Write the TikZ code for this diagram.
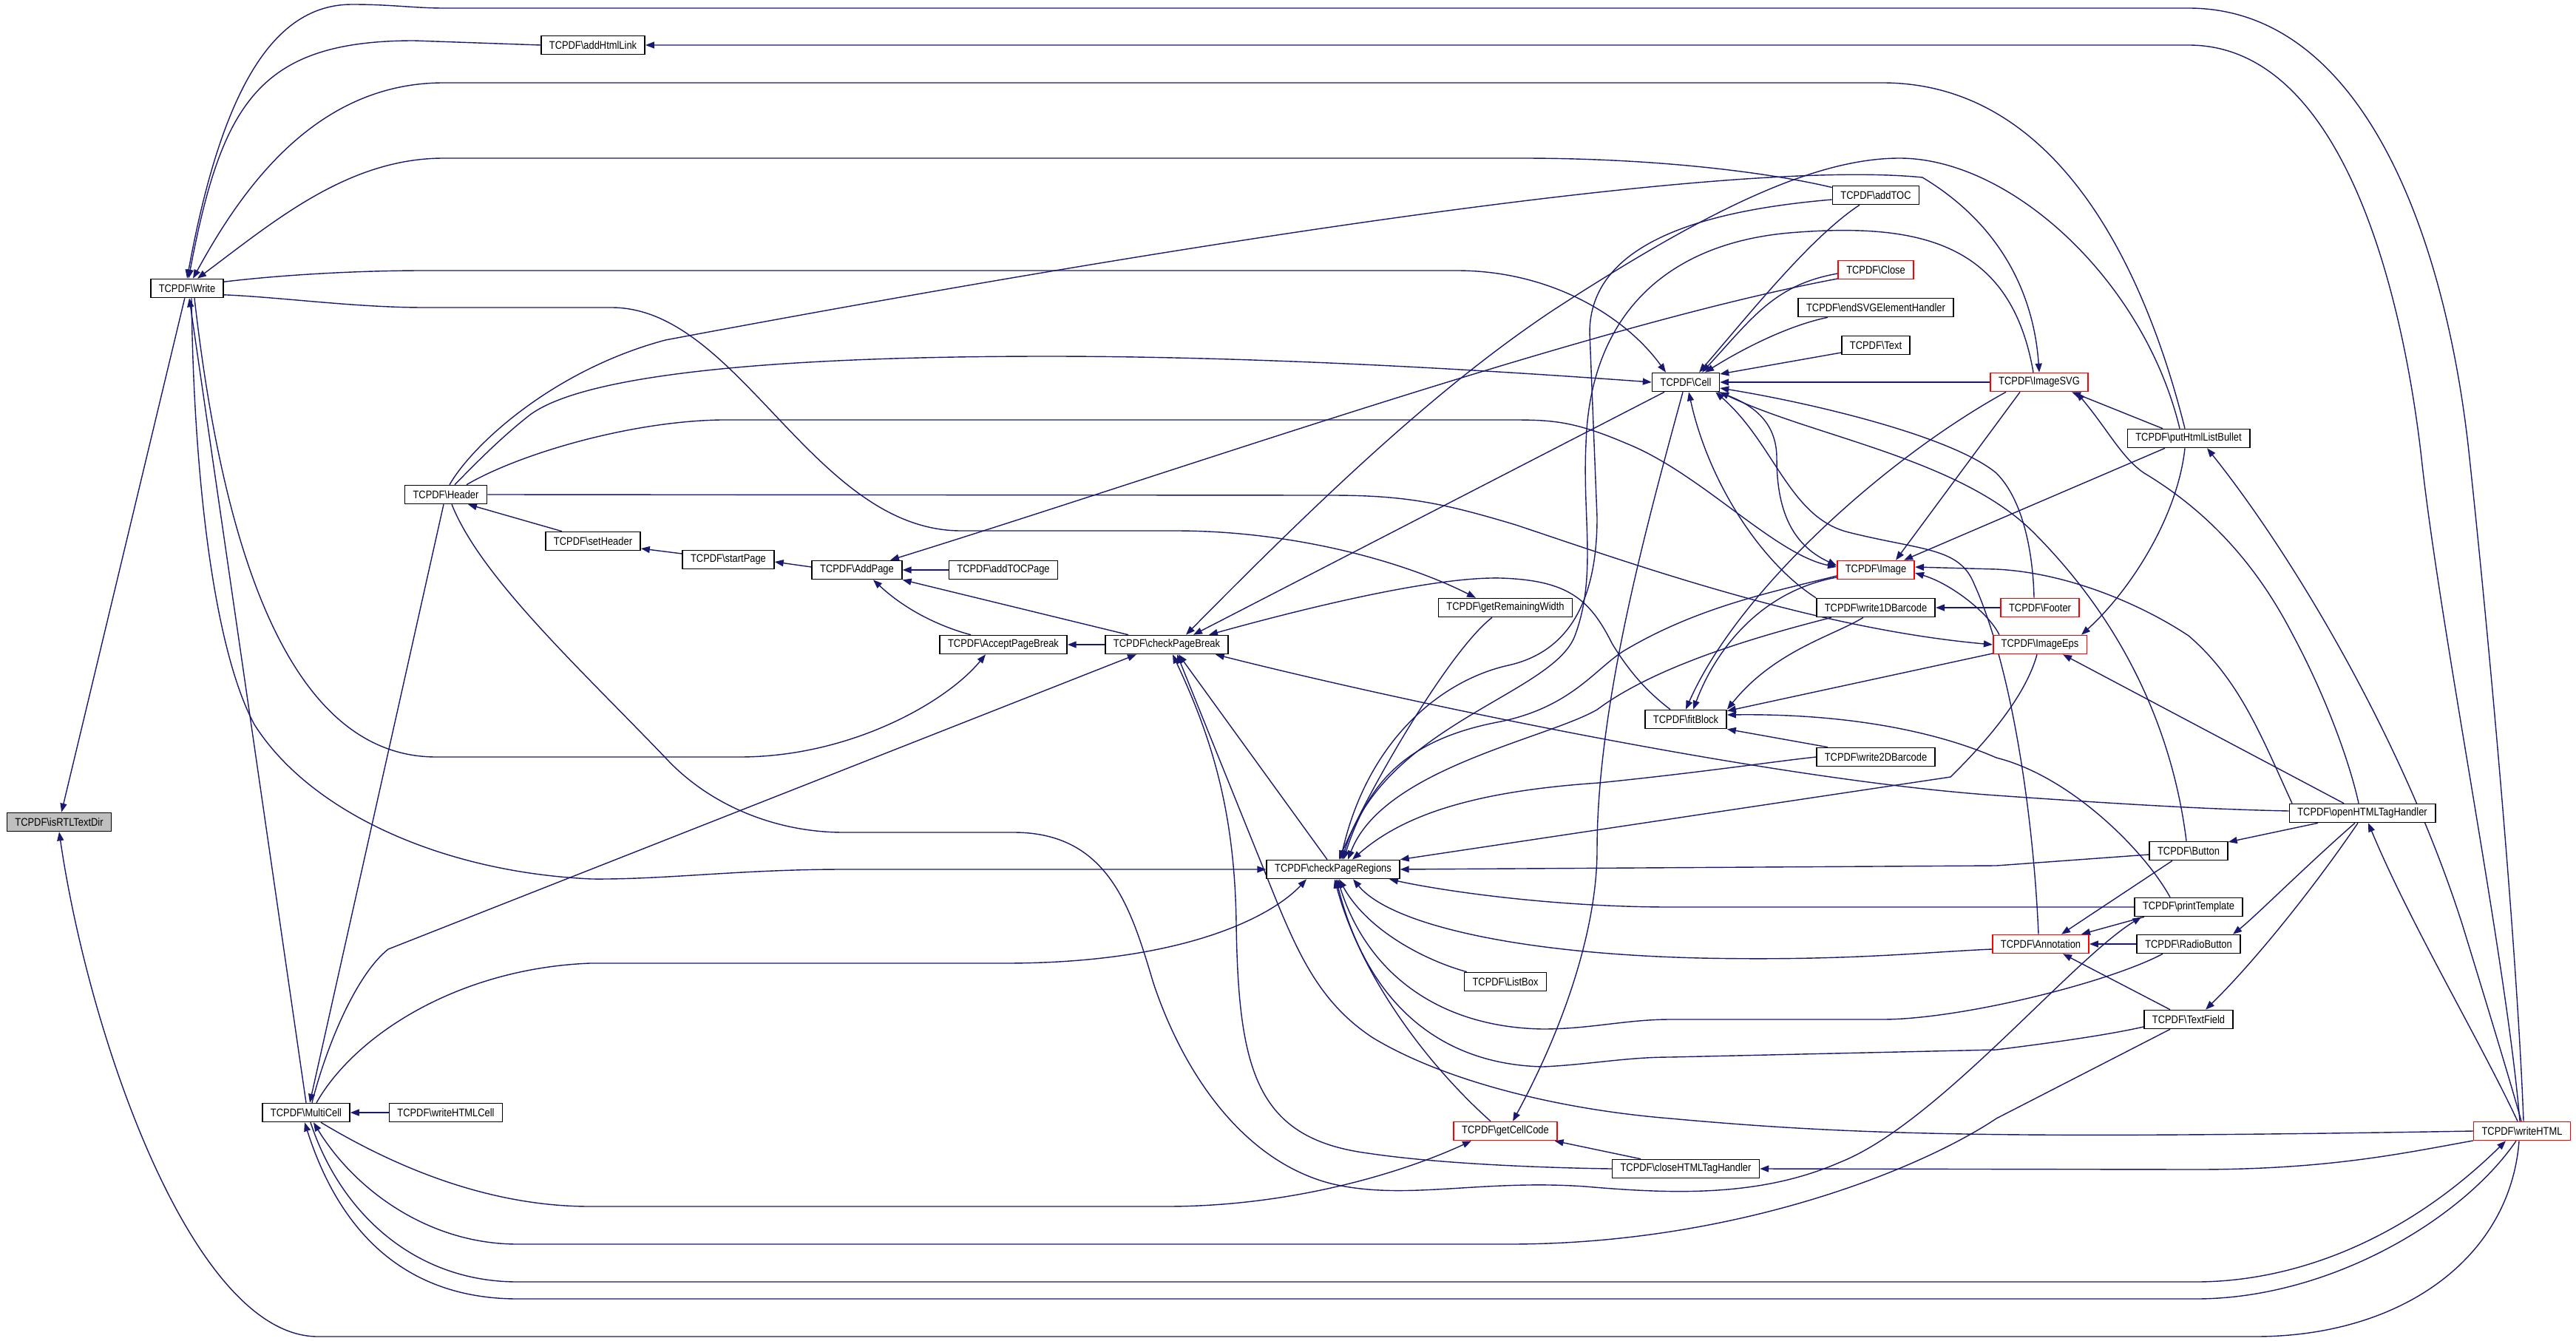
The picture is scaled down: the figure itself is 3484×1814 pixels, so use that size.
\documentclass[tikz,border=0pt]{standalone}
\usepackage{fontspec}
\setmainfont{Liberation Sans}[FakeStretch=0.86]
\usetikzlibrary{arrows.meta,backgrounds}

\definecolor{edgeblue}{RGB}{25,25,112}
\definecolor{rootgrey}{RGB}{191,191,191}
\newcommand{\tcpdf}[1]{TCPDF\textbackslash #1}

\tikzset{
  fn/.style={draw=black, line width=1.6pt, fill=white, minimum height=25pt,
    inner xsep=11pt, inner ysep=0pt, font=\fontsize{15}{15}\selectfont},
  fnred/.style={fn, draw=red},
  fnroot/.style={fn, fill=rootgrey},
  callby/.style={draw=edgeblue, line width=1.4pt, arrows={Triangle[length=12pt,width=9pt]-}},
}

\begin{document}
\begin{tikzpicture}[x=1pt, y=-1pt]
\useasboundingbox (0,0) rectangle (3484,1814);

% functions, one column per rank
\node[fnroot] (isrtl) at (80,1112) {\tcpdf{isRTLTextDir}};
\node[fn] (write) at (253,390) {\tcpdf{Write}};
\node[fn] (multicell) at (414,1505) {\tcpdf{MultiCell}};
\node[fn] (header) at (603,669) {\tcpdf{Header}};
\node[fn] (writehtmlcell) at (603,1505) {\tcpdf{writeHTMLCell}};
\node[fn] (addhtmllink) at (802,61) {\tcpdf{addHtmlLink}};
\node[fn] (setheader) at (802,732) {\tcpdf{setHeader}};
\node[fn] (startpage) at (985,757) {\tcpdf{startPage}};
\node[fn] (addpage) at (1159,771) {\tcpdf{AddPage}};
\node[fn] (addtocpage) at (1357,771) {\tcpdf{addTOCPage}};
\node[fn] (acceptpagebreak) at (1357,872) {\tcpdf{AcceptPageBreak}};
\node[fn] (checkpagebreak) at (1578,872) {\tcpdf{checkPageBreak}};
\node[fn] (checkpageregions) at (1803,1176) {\tcpdf{checkPageRegions}};
\node[fn] (getremainingwidth) at (2036,822) {\tcpdf{getRemainingWidth}};
\node[fn] (listbox) at (2036,1328) {\tcpdf{ListBox}};
\node[fnred] (getcellcode) at (2036,1530) {\tcpdf{getCellCode}};
\node[fn] (cell) at (2280,517) {\tcpdf{Cell}};
\node[fn] (fitblock) at (2280,973) {\tcpdf{fitBlock}};
\node[fn] (closehtml) at (2280,1581) {\tcpdf{closeHTMLTagHandler}};
\node[fn] (addtoc) at (2537,264) {\tcpdf{addTOC}};
\node[fnred] (close) at (2537,365) {\tcpdf{Close}};
\node[fn] (endsvg) at (2537,416) {\tcpdf{endSVGElementHandler}};
\node[fn] (text) at (2537,467) {\tcpdf{Text}};
\node[fnred] (image) at (2537,771) {\tcpdf{Image}};
\node[fn] (barcodeone) at (2537,822) {\tcpdf{write1DBarcode}};
\node[fn] (barcodetwo) at (2537,1024) {\tcpdf{write2DBarcode}};
\node[fnred] (imagesvg) at (2758,517) {\tcpdf{ImageSVG}};
\node[fnred] (footer) at (2759,822) {\tcpdf{Footer}};
\node[fnred] (imageeps) at (2759,872) {\tcpdf{ImageEps}};
\node[fnred] (annotation) at (2760,1277) {\tcpdf{Annotation}};
\node[fn] (listbullet) at (2960,593) {\tcpdf{putHtmlListBullet}};
\node[fn] (button) at (2960,1151) {\tcpdf{Button}};
\node[fn] (printtemplate) at (2960,1227) {\tcpdf{printTemplate}};
\node[fn] (radiobutton) at (2960,1277) {\tcpdf{RadioButton}};
\node[fn] (textfield) at (2960,1379) {\tcpdf{TextField}};
\node[fn] (openhtml) at (3195,1100) {\tcpdf{openHTMLTagHandler}};
\node[fnred] (writehtml) at (3411,1530) {\tcpdf{writeHTML}};

\begin{scope}[on background layer]
% root
\draw[callby] (isrtl) -- (write);
\draw[callby] (isrtl.south) .. controls (120,1400) and (260,1808) .. (430,1808) -- (3050,1808) .. controls (3250,1808) and (3395,1700) .. ([xshift=-4pt]writehtml.south);

% callers of Write
\draw[callby] (write.north) .. controls (300,120) and (370,6) .. (476,6) .. controls (530,6) and (560,11) .. (600,11) -- (2960,11) .. controls (3200,11) and (3310,330) .. (3340,620) .. controls (3370,900) and (3405,1300) .. ([xshift=2pt]writehtml.north);
\draw[callby] ([xshift=2pt]write.north) .. controls (300,140) and (350,55) .. (560,55) -- (addhtmllink.west);
\draw[callby] ([xshift=8pt]write.north) .. controls (330,250) and (430,112) .. (600,112) -- (2546,112) .. controls (2800,112) and (2910,400) .. ([xshift=-5pt]listbullet.north);
\draw[callby] ([xshift=14pt]write.north) .. controls (370,300) and (470,214) .. (600,214) -- (2058,214) .. controls (2250,214) and (2400,235) .. (addtoc.170);
\draw[callby] ([xshift=3pt]write.south) -- (multicell.north);
\draw[callby] (addhtmllink.east) -- (2960,61) .. controls (3170,61) and (3250,400) .. (3275,620) .. controls (3300,850) and (3390,1300) .. ([xshift=-3pt]writehtml.north);

% called by Write
\draw[callby] ([xshift=-27pt]cell.north) .. controls (2200,430) and (2100,366) .. (1970,366) -- (574,366) .. controls (480,366) and (380,372) .. (write.10);
\draw[callby] ([xshift=-40pt]getremainingwidth.north) .. controls (1900,760) and (1750,718) .. (1590,718) -- (1300,718) .. controls (1100,718) and (1000,416) .. (827,416) -- (574,416) .. controls (480,416) and (380,402) .. (write.-10);
\draw[callby] ([xshift=-24pt]acceptpagebreak.south) .. controls (1280,950) and (1150,1024) .. (1000,1024) -- (590,1024) .. controls (420,1024) and (310,820) .. ([xshift=10pt]write.south);
\draw[callby] (checkpageregions.west) -- (1141,1176) .. controls (1000,1176) and (900,1190) .. (800,1189) .. controls (600,1180) and (420,1100) .. (344,980) .. controls (290,880) and (262,650) .. ([xshift=6pt]write.south);

% Header and the page chain
\draw[callby] ([xshift=5pt]multicell.north) -- ([xshift=-3pt]header.south);
\draw[callby] ([xshift=30pt]header.south) -- ([xshift=-42pt]setheader.north);
\draw[callby] ([yshift=-10pt]setheader.east) -- ([yshift=8pt]startpage.west);
\draw[callby] ([yshift=-3pt]startpage.east) -- ([yshift=4pt]addpage.west);
\draw[callby] (addpage.east) -- (addtocpage.west);
\draw[callby] ([xshift=22pt]addpage.south) .. controls (1230,830) and (1280,850) .. ([xshift=-44pt]acceptpagebreak.north);
\draw[callby] (addpage.south east) -- ([xshift=-52pt]checkpagebreak.north);
\draw[callby] ([xshift=45pt]addpage.north) .. controls (1600,635) and (2150,440) .. ([yshift=-12pt]close.west);
\draw[callby] (acceptpagebreak.east) -- (checkpagebreak.west);
\draw[callby] (imagesvg.north) .. controls (2750,390) and (2700,300) .. (2600,240) .. controls (2300,210) and (1400,366) .. (900,460) .. controls (750,500) and (640,600) .. ([xshift=5pt]header.north);
\draw[callby] (cell.west) .. controls (2000,500) and (1700,482) .. (1417,482) .. controls (1100,482) and (800,500) .. (717,561) .. controls (680,590) and (650,620) .. ([xshift=12pt]header.north);
\draw[callby] ([yshift=4pt]image.west) .. controls (2400,750) and (2300,640) .. (2200,600) .. controls (2130,570) and (2100,568) .. (2047,568) -- (975,568) .. controls (850,570) and (700,615) .. ([xshift=28pt]header.north);
\draw[callby] (imageeps.west) .. controls (2450,850) and (2200,760) .. (2050,710) .. controls (1950,680) and (1900,670) .. (1800,670) -- (header.east);
\draw[callby] ([xshift=10pt]printtemplate.south west) .. controls (2800,1300) and (2620,1520) .. (2489,1572) .. controls (2380,1620) and (2260,1615) .. (2144,1605) .. controls (2000,1595) and (1900,1625) .. (1800,1601) .. controls (1680,1570) and (1600,1450) .. (1560,1330) .. controls (1530,1230) and (1500,1126) .. (1371,1126) -- (1141,1126) .. controls (1050,1126) and (960,1090) .. (900,1025) .. controls (780,900) and (650,780) .. ([xshift=8pt]header.south);

% MultiCell
\draw[callby] ([xshift=-41pt]checkpagebreak.south) -- (525,1284) .. controls (480,1320) and (440,1420) .. ([xshift=8pt]multicell.north);
\draw[callby] ([xshift=-36pt]checkpageregions.south) .. controls (1720,1240) and (1600,1303) .. (1359,1303) -- (798,1303) .. controls (620,1310) and (480,1400) .. ([xshift=14pt]multicell.north);
\draw[callby] ([xshift=-46pt]getcellcode.south) .. controls (1900,1585) and (1750,1632) .. (1577,1632) -- (798,1632) .. controls (650,1632) and (520,1570) .. ([xshift=20pt]multicell.south);
\draw[callby] ([xshift=-22pt]writehtml.south) .. controls (3250,1680) and (3100,1734) .. (2970,1734) -- (700,1734) .. controls (560,1734) and (460,1640) .. ([xshift=6pt]multicell.south);
\draw[callby] ([xshift=-2pt]multicell.south) .. controls (470,1700) and (580,1757) .. (700,1757) -- (2970,1757) .. controls (3150,1757) and (3330,1650) .. ([xshift=-8pt]writehtml.south);
\draw[callby] ([xshift=10pt]multicell.south) .. controls (480,1610) and (580,1683) .. (700,1683) -- (2041,1683) .. controls (2350,1683) and (2600,1580) .. (2700,1513) -- ([xshift=-25pt]textfield.south);
\draw[callby] (multicell.east) -- (writehtmlcell.west);

% Cell
\draw[callby] ([xshift=18pt]cell.north) .. controls (2370,420) and (2450,320) .. ([xshift=-22pt]addtoc.south);
\draw[callby] ([xshift=22pt]cell.north) .. controls (2370,430) and (2400,385) .. ([yshift=-5pt]close.west);
\draw[callby] ([xshift=26pt]cell.north) .. controls (2360,470) and (2420,440) .. ([xshift=-65pt]endsvg.south);
\draw[callby] ([yshift=11pt]cell.east) -- ([yshift=-10pt]text.west);
\draw[callby] (cell.east) -- (imagesvg.west);
\draw[callby] ([xshift=10pt]getcellcode.north) .. controls (2120,1380) and (2160,1250) .. (2160,1150) .. controls (2160,950) and (2230,700) .. ([xshift=-4pt]cell.south);
\draw[callby] ([xshift=36pt]checkpagebreak.north) -- ([xshift=-29pt]cell.south);
\draw[callby] ([xshift=4pt]cell.south) .. controls (2310,650) and (2380,760) .. (barcodeone.north west);
\draw[callby] ([yshift=-8pt]cell.east) .. controls (2450,545) and (2640,590) .. (2700,640) .. controls (2740,680) and (2750,760) .. ([xshift=-8pt]footer.north);
\draw[callby] (cell.south east) .. controls (2450,590) and (2650,620) .. (2750,720) .. controls (2880,850) and (2940,1000) .. ([xshift=-3pt]button.north);
\draw[callby] ([xshift=-6pt]cell.south east) .. controls (2400,600) and (2420,700) .. (2500,720) .. controls (2600,745) and (2650,740) .. (2670,790) .. controls (2720,900) and (2750,1100) .. ([xshift=-3pt]annotation.north);
\draw[callby] ([yshift=6pt]image.west) .. controls (2430,740) and (2403,700) .. (2403,620) .. controls (2403,570) and (2370,545) .. ([xshift=-3pt]cell.south east);

% checkPageRegions
\draw[callby] ([xshift=8pt]checkpageregions.north) .. controls (1850,1070) and (1960,880) .. ([xshift=-18pt]getremainingwidth.south);
\draw[callby] ([xshift=10pt]checkpageregions.north) .. controls (1850,1000) and (1950,920) .. (2040,900) .. controls (2130,880) and (2160,800) .. (2160,700) -- (2150,450) .. controls (2150,330) and (2300,285) .. ([yshift=-6pt]addtoc.west);
\draw[callby] ([xshift=12pt]checkpageregions.north) .. controls (1870,980) and (2100,940) .. (2130,860) .. controls (2160,780) and (2140,700) .. (2145,600) .. controls (2150,430) and (2250,330) .. (2420,315) .. controls (2600,300) and (2720,330) .. ([xshift=-8pt]imagesvg.north);
\draw[callby] ([xshift=14pt]checkpageregions.north) .. controls (1850,1060) and (1900,1000) .. (2030,976) .. controls (2130,955) and (2160,900) .. (2202,877) .. controls (2300,820) and (2400,800) .. ([yshift=-8pt]image.west);
\draw[callby] ([xshift=20pt]checkpageregions.north) .. controls (1870,1040) and (2090,1000) .. (2160,960) .. controls (2240,900) and (2380,860) .. ([xshift=-60pt]barcodeone.south);
\draw[callby] ([xshift=26pt]checkpageregions.north) .. controls (1900,1100) and (2000,1070) .. (2162,1059) .. controls (2300,1045) and (2400,1030) .. (barcodetwo.west);
\draw[callby] (checkpageregions.north east) -- (2638,1051) .. controls (2690,1000) and (2740,940) .. ([xshift=-4pt]imageeps.south);
\draw[callby] (checkpageregions.east) -- (2700,1171) -- ([yshift=-5pt]button.west);
\draw[callby] ([xshift=76pt]checkpageregions.south) .. controls (1950,1205) and (2100,1227) .. (2259,1227) -- (printtemplate.west);
\draw[callby] ([xshift=27pt]checkpageregions.south) .. controls (1880,1250) and (2050,1290) .. (2300,1296) .. controls (2500,1300) and (2600,1288) .. ([yshift=-7pt]annotation.west);
\draw[callby] ([xshift=8pt]checkpageregions.south) .. controls (1850,1260) and (1930,1300) .. ([xshift=-52pt]listbox.north);
\draw[callby] ([xshift=6pt]checkpageregions.south) .. controls (1850,1320) and (1950,1390) .. (2087,1392) .. controls (2150,1392) and (2200,1379) .. (2259,1379) -- (2546,1379) .. controls (2650,1379) and (2850,1330) .. ([xshift=-35pt]radiobutton.south);
\draw[callby] ([xshift=4pt]checkpageregions.south) .. controls (1850,1360) and (1950,1440) .. (2087,1443) .. controls (2150,1440) and (2200,1430) .. (2259,1430) -- (2700,1420) .. controls (2780,1410) and (2850,1400) .. ([yshift=-10pt]textfield.west);
\draw[callby] ([xshift=2pt]checkpageregions.south) .. controls (1840,1320) and (1930,1440) .. ([xshift=-20pt]getcellcode.north);
\draw[callby] ([xshift=16pt]checkpagebreak.south) -- ([xshift=-8pt]checkpageregions.north);

% checkPageBreak
\draw[callby] ([xshift=14pt]checkpagebreak.south) -- (1727,1220) .. controls (1760,1300) and (1790,1360) .. (1857,1404) .. controls (1950,1460) and (2100,1500) .. (2259,1513) .. controls (2500,1535) and (2700,1541) .. (writehtml.west);
\draw[callby] ([xshift=8pt]checkpagebreak.south) .. controls (1640,1000) and (1670,1100) .. (1672,1250) .. controls (1675,1450) and (1700,1540) .. (1850,1560) .. controls (1950,1575) and (2100,1580) .. (closehtml.west);
\draw[callby] ([xshift=-18pt]checkpagebreak.south east) .. controls (1900,950) and (2400,1055) .. (2700,1076) .. controls (2900,1090) and (3000,1095) .. ([yshift=3pt]openhtml.west);
\draw[callby] ([xshift=57pt]checkpagebreak.north) .. controls (1800,813) and (1950,780) .. (2030,782) .. controls (2120,785) and (2150,810) .. (2180,870) .. controls (2210,920) and (2240,945) .. ([xshift=-21pt]fitblock.north);
\draw[callby] ([xshift=26pt]checkpagebreak.north) .. controls (1800,660) and (1950,520) .. (2100,420) .. controls (2300,290) and (2450,214) .. (2569,214) .. controls (2720,214) and (2900,380) .. ([xshift=-12pt]listbullet.north);

% images, forms, html handlers
\draw[callby] ([xshift=27pt]image.north) -- ([xshift=-26pt]imagesvg.south);
\draw[callby] ([xshift=38pt]image.north) -- ([xshift=-32pt]listbullet.south);
\draw[callby] ([yshift=-4pt]image.east) .. controls (2640,790) and (2690,830) .. ([xshift=-55pt]imageeps.north);
\draw[callby] ([xshift=56pt]imageeps.north) .. controls (2880,800) and (2945,700) .. ([xshift=-5pt]listbullet.south);
\draw[callby] ([xshift=44pt]imagesvg.south) -- ([xshift=-35pt]listbullet.north);
\draw[callby] ([xshift=50pt]imagesvg.south) .. controls (2850,580) and (2870,620) .. (2900,640) .. controls (3000,700) and (3060,780) .. (3100,857) .. controls (3150,950) and (3180,1040) .. ([xshift=-5pt]openhtml.north);
\draw[callby] ([xshift=31pt]imageeps.south) -- ([xshift=-25pt]openhtml.north);
\draw[callby] ([yshift=4pt]image.east) -- (2700,770) .. controls (2800,775) and (2900,820) .. (2960,860) .. controls (3030,920) and (3060,1000) .. ([xshift=-95pt]openhtml.north);
\draw[callby] ([yshift=12pt]button.east) -- ([xshift=-60pt]openhtml.south);
\draw[callby] ([xshift=60pt]radiobutton.north) .. controls (3050,1240) and (3120,1170) .. ([xshift=-10pt]openhtml.south);
\draw[callby] ([xshift=23pt]textfield.north) .. controls (3050,1300) and (3130,1200) .. ([xshift=-6pt]openhtml.south);
\draw[callby] ([xshift=8pt]openhtml.south) .. controls (3260,1250) and (3350,1400) .. ([xshift=-6pt]writehtml.north);
\draw[callby] ([xshift=25pt]listbullet.south) .. controls (3100,750) and (3250,1000) .. (3330,1250) .. controls (3370,1380) and (3400,1480) .. ([xshift=-1pt]writehtml.north);

% fitBlock
\draw[callby] ([xshift=10pt]fitblock.north) .. controls (2320,880) and (2380,800) .. ([yshift=-10pt]image.west);
\draw[callby] (fitblock.north) .. controls (2350,800) and (2550,620) .. ([xshift=-45pt]imagesvg.south);
\draw[callby] (fitblock.north east) .. controls (2400,880) and (2480,860) .. ([xshift=-17pt]barcodeone.south);
\draw[callby] ([yshift=-2pt]fitblock.north east) -- ([yshift=-12pt]imageeps.west);
\draw[callby] ([yshift=6pt]fitblock.east) .. controls (2500,965) and (2620,990) .. (2700,1025) .. controls (2800,1050) and (2900,1150) .. ([xshift=-25pt]printtemplate.north);
\draw[callby] (fitblock.south east) -- ([xshift=-65pt]barcodetwo.north);
\draw[callby] (barcodeone.east) -- (footer.west);

% Annotation
\draw[callby] ([xshift=28pt]annotation.north) -- ([xshift=-22pt]button.south);
\draw[callby] (annotation.east) -- (radiobutton.west);
\draw[callby] ([xshift=30pt]annotation.south) -- ([xshift=-25pt]textfield.north);
\draw[callby] ([xshift=55pt]annotation.north) -- ([xshift=-60pt]printtemplate.south);

% getCellCode and closeHTMLTagHandler
\draw[callby] ([xshift=-4pt]getcellcode.south east) -- ([xshift=-61pt]closehtml.north);
\draw[callby] (closehtml.east) -- (2970,1582) .. controls (3150,1582) and (3250,1560) .. ([yshift=-13pt]writehtml.west);
\end{scope}
\end{tikzpicture}
\end{document}
